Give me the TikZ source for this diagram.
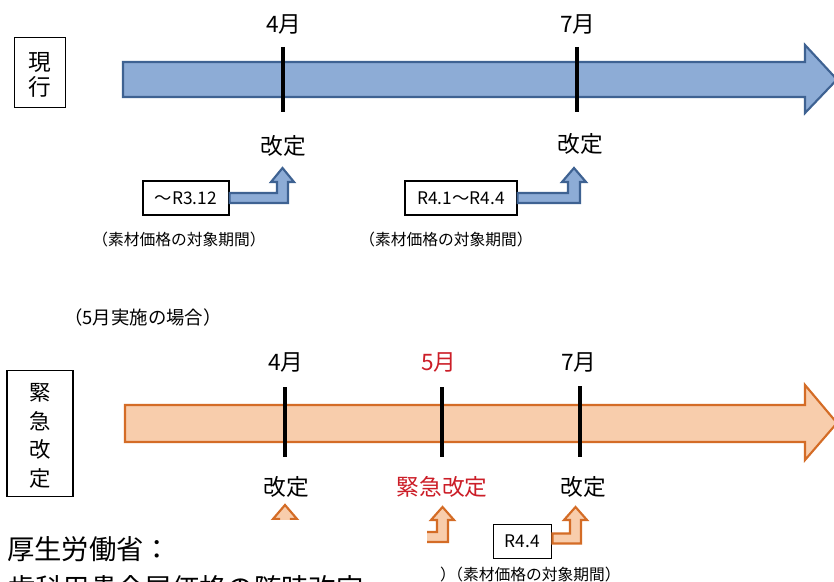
\documentclass[tikz,border=0pt]{standalone}
\usepackage{fontspec}
\usetikzlibrary{calc}
\setmainfont{Noto Sans CJK JP}
\definecolor{bfill}{RGB}{141,172,214}
\definecolor{bline}{RGB}{62,98,146}
\definecolor{ofill}{RGB}{248,205,172}
\definecolor{oline}{RGB}{212,108,38}
\definecolor{redtxt}{RGB}{204,30,40}
\tikzset{
  tick/.style={line width=2.6pt, black},
  blueshape/.style={fill=bfill, draw=bline, line width=1.6pt, line join=miter},
  orangeshape/.style={fill=ofill, draw=oline, line width=1.6pt, line join=miter},
  month/.style={inner sep=0pt, font=\fontsize{17pt}{19pt}\selectfont},
  kaitei/.style={inner sep=0pt, font=\fontsize{17pt}{19pt}\selectfont},
  periodbox/.style={draw, line width=0.9pt, inner sep=0pt, font=\fontsize{13pt}{15pt}\selectfont},
  note/.style={inner sep=0pt, font=\fontsize{11.8pt}{13pt}\selectfont},
  sidebox/.style={draw, line width=0.9pt, inner sep=0pt},
}
\begin{document}
\begin{tikzpicture}[x=0.75pt,y=-0.75pt]
\clip (0,0) rectangle (834,581);
\fill[white] (0,0) rectangle (834,581);

% ---------- top: current ----------
\node[sidebox, minimum width=38.5pt, minimum height=52pt] (genbox) at (40,72.5) {};
\node[inner sep=0pt, font=\fontsize{17pt}{20pt}\selectfont, align=center] (gentxt) at (40,75) {現\\[-1pt]行};

\draw[blueshape] (123,62) -- (805,62) -- (805,45) -- (837,79.5) -- (805,113) -- (805,97) -- (123,97) -- cycle;

\coordinate (t1a) at (283,47); \coordinate (t1b) at (283,112);
\coordinate (t2a) at (577,47); \coordinate (t2b) at (577,112);
\draw[tick] (t1a) -- (t1b);
\draw[tick] (t2a) -- (t2b);

\node[month] (m4a) at (284,25) {4月};
\node[month] (m7a) at (578,25) {7月};
\node[kaitei] (k4a) at (283,146) {改定};
\node[kaitei] (k7a) at (580,144) {改定};

\node[periodbox, minimum width=64.5pt, minimum height=25.5pt] (b1) at (186,198) {～R3.12};
\node[periodbox, minimum width=84pt, minimum height=25.5pt] (b2) at (461,198) {R4.1～R4.4};

\draw[blueshape] ($(b1.east)+(0,-5)$) -- (277,193) -- (277,182) -- (271,182) -- (282.5,168) -- (294,182) -- (288,182) -- (288,203) -- ($(b1.east)+(0,5)$) -- cycle;
\draw[blueshape] ($(b2.east)+(0,-5)$) -- (568,193) -- (568,182) -- (562,182) -- (574,168) -- (586,182) -- (580,182) -- (580,203) -- ($(b2.east)+(0,5)$) -- cycle;

\node[note] (n1) at (179,240) {（素材価格の対象期間）};
\node[note] (n2) at (446,240) {（素材価格の対象期間）};

% ---------- bottom: emergency revision ----------
\node[inner sep=0pt, font=\fontsize{13.8pt}{15pt}\selectfont] (case) at (143,318) {（5月実施の場合）};

\node[sidebox, minimum width=49.5pt, minimum height=95pt] (kinbox) at (40,433.5) {};
\node[inner sep=0pt, font=\fontsize{16pt}{21.5pt}\selectfont, align=center] (kintxt) at (40,436) {緊\\急\\改\\定};

\draw[orangeshape] (125,405) -- (805,405) -- (805,385) -- (837,423) -- (805,460) -- (805,442) -- (125,442) -- cycle;

\coordinate (t3a) at (285,387); \coordinate (t3b) at (285,457);
\coordinate (t4a) at (442,387); \coordinate (t4b) at (442,457);
\coordinate (t5a) at (580,386); \coordinate (t5b) at (580,457);
\draw[tick] (t3a) -- (t3b);
\draw[tick] (t4a) -- (t4b);
\draw[tick] (t5a) -- (t5b);

\node[month] (m4b) at (286,362) {4月};
\node[month, text=redtxt] (m5b) at (439,362) {5月};
\node[month] (m7b) at (579,362) {7月};
\node[kaitei] (k4b) at (286,487) {改定};
\node[kaitei, text=redtxt] (k5b) at (442,487) {緊急改定};
\node[kaitei] (k7b) at (583,487) {改定};

\node[periodbox, minimum width=44pt, minimum height=25pt] (b3) at (522.5,541.5) {R4.4};

\draw[orangeshape] (230,535) -- (279,535) -- (279,519) -- (273,519) -- (285,505) -- (297,519) -- (291,519) -- (291,545) -- (230,545) -- cycle;
\draw[orangeshape] (380,532) -- (437,532) -- (437,520) -- (431,520) -- (442.5,507) -- (454,520) -- (448,520) -- (448,542) -- (380,542) -- cycle;
\draw[orangeshape] ($(b3.east)+(0,-8)$) -- (570,533.5) -- (570,520) -- (564,520) -- (575.5,507) -- (587,520) -- (581,520) -- (581,543.5) -- ($(b3.east)+(0,2)$) -- cycle;

\node[note, anchor=east] (n3) at (456,575) {）};
\node[note] (n4) at (534,575) {（素材価格の対象期間）};

% ---------- overlay caption ----------
\fill[white] (0,520) rectangle (427,581);
\node[inner sep=0pt, anchor=west, font=\fontsize{20.5pt}{22pt}\selectfont] (cap1) at (7,549) {厚生労働省：};
\node[inner sep=0pt, anchor=west, font=\fontsize{20.5pt}{22pt}\selectfont] (cap2) at (8,588) {歯科用貴金属価格の随時改定};
\end{tikzpicture}
\end{document}
